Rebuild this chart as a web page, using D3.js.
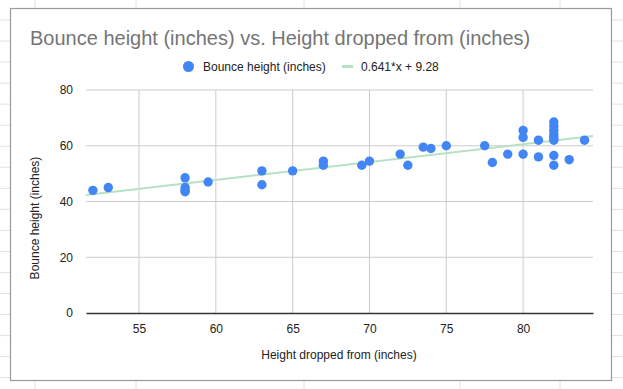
<!DOCTYPE html>
<html>
<head>
<meta charset="utf-8">
<script src="https://cdn.jsdelivr.net/npm/d3@7"></script>
<style>
body { margin: 0; background: #fff; }
svg { display: block; }
text { font-family: Arial, "Liberation Sans", sans-serif; }
</style>
</head>
<body>
<script>
// data
var heightDropped = [52, 53, 58, 58, 58, 58, 59.5, 63, 63, 65, 67, 67, 69.5, 70, 72, 72.5, 73.5, 74, 75, 77.5,
	78, 79, 80, 80, 80, 81, 81, 82, 82, 82, 82, 82, 82, 82, 82, 83, 84];
var bounceHeight = [44, 45, 48.5, 45, 44, 43.5, 47, 51, 46, 51, 54.5, 53, 53, 54.5, 57, 53, 59.5, 59, 60, 60,
	54, 57, 65.5, 63, 57, 62, 56, 68.5, 67, 65.5, 64, 63, 62, 56.5, 53, 55, 62];
var xTicks = [55, 60, 65, 70, 75, 80];
var yTicks = [0, 20, 40, 60, 80];
var trendSlope = 0.641;
var trendIntercept = 9.28;
var seriesName = 'Bounce height (inches)';
var trendName = '0.641*x + 9.28';

var width = 623, height = 389;
var svg = d3.select('body').append('svg').attr('width', width).attr('height', height);

// spreadsheet grid behind the chart
var cols = [35, 136, 304, 460, 560];
var rows = d3.range(0, 19).map(function(i) { return 20 + i * 21.04; });
svg.selectAll('line.col').data(cols).enter().append('line')
	.attr('x1', function(d) { return d; }).attr('x2', function(d) { return d; })
	.attr('y1', 0).attr('y2', height).attr('stroke', '#e2e2e2');
svg.selectAll('line.row').data(rows).enter().append('line')
	.attr('y1', function(d) { return d; }).attr('y2', function(d) { return d; })
	.attr('x1', 0).attr('x2', width).attr('stroke', '#e2e2e2');

svg.append('rect').attr('x', 10.5).attr('y', 8.5).attr('width', 601).attr('height', 372)
	.attr('fill', '#fff').attr('stroke', '#9a9a9a').attr('stroke-width', 1.2);

var x = d3.scaleLinear().domain([51.55, 84.55]).range([86, 593]);
var y = d3.scaleLinear().domain([0, 80]).range([313, 90]);

// gridlines
svg.append('g').selectAll('line').data(xTicks).enter().append('line')
	.attr('x1', function(d) { return x(d); }).attr('x2', function(d) { return x(d); })
	.attr('y1', y(80)).attr('y2', y(0)).attr('stroke', '#cccccc');
svg.append('g').selectAll('line').data(yTicks.slice(1)).enter().append('line')
	.attr('y1', function(d) { return y(d); }).attr('y2', function(d) { return y(d); })
	.attr('x1', x.range()[0]).attr('x2', x.range()[1]).attr('stroke', '#cccccc');

// axes via d3 (tick lines hidden, labels only)
var xAxis = svg.append('g').attr('transform', 'translate(0,' + y(0) + ')')
	.call(d3.axisBottom(x).tickValues(xTicks).tickSize(0).tickPadding(11));
xAxis.select('.domain').attr('stroke', '#333').attr('stroke-width', 1.3);
xAxis.selectAll('text').attr('font-size', 12).attr('fill', '#222')
	.attr('font-family', 'Arial, "Liberation Sans", sans-serif');

var yAxis = svg.append('g').attr('transform', 'translate(' + 75 + ',0)')
	.call(d3.axisLeft(y).tickValues(yTicks).tickSize(0).tickPadding(2));
yAxis.select('.domain').remove();
yAxis.selectAll('text').attr('font-size', 12).attr('fill', '#222')
	.attr('font-family', 'Arial, "Liberation Sans", sans-serif');

// trendline
svg.append('line')
	.attr('x1', x(51.55)).attr('y1', y(trendSlope * 51.55 + trendIntercept))
	.attr('x2', x(84.55)).attr('y2', y(trendSlope * 84.55 + trendIntercept))
	.attr('stroke', '#b7e1c4').attr('stroke-width', 2);

// points
var points = heightDropped.map(function(v, i) { return { x: v, y: bounceHeight[i] }; });
svg.append('g').selectAll('circle').data(points).enter().append('circle')
	.attr('cx', function(d) { return x(d.x); })
	.attr('cy', function(d) { return y(d.y); })
	.attr('r', 4.7).attr('fill', '#4285f4');

// title
svg.append('text').attr('x', 30).attr('y', 45).attr('font-size', 20).attr('fill', '#757575')
	.text('Bounce height (inches) vs. Height dropped from (inches)');

// legend
svg.append('circle').attr('cx', 188.5).attr('cy', 66.5).attr('r', 5.5).attr('fill', '#4285f4');
svg.append('text').attr('x', 203).attr('y', 70.5).attr('font-size', 12).attr('fill', '#222').text(seriesName);
svg.append('line').attr('x1', 342).attr('x2', 353).attr('y1', 66.5).attr('y2', 66.5)
	.attr('stroke', '#b7e1c4').attr('stroke-width', 3);
svg.append('text').attr('x', 361).attr('y', 70.5).attr('font-size', 12).attr('fill', '#222').text(trendName);

// axis titles
svg.append('text').attr('x', 339).attr('y', 359).attr('text-anchor', 'middle')
	.attr('font-size', 12).attr('fill', '#222').text('Height dropped from (inches)');
svg.append('text').attr('transform', 'translate(39,218) rotate(-90)').attr('text-anchor', 'middle')
	.attr('font-size', 12).attr('fill', '#222').text('Bounce height (inches)');
</script>
</body>
</html>
